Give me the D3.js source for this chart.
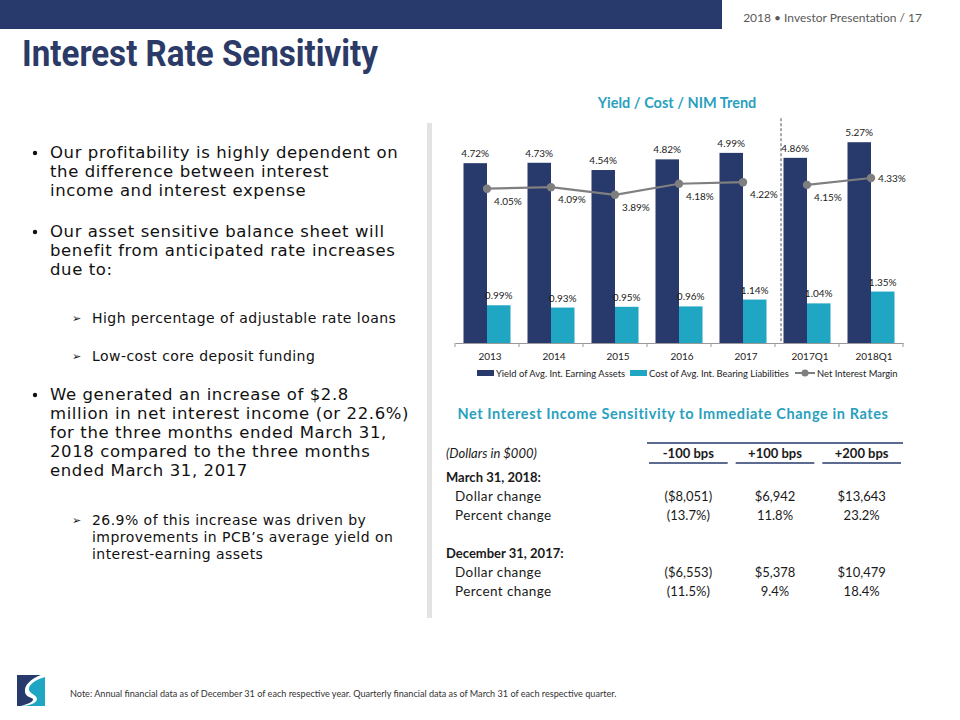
<!DOCTYPE html>
<html>
<head>
<meta charset="utf-8">
<script src="https://cdn.jsdelivr.net/npm/d3@7"></script>
<style>
  body { margin: 0; background: #fff; }
  svg { display: block; font-family: Lato, "Open Sans", sans-serif; }
</style>
</head>
<body>
<svg width="960" height="720"></svg>
<script>
// chart data
const categories = ['2013', '2014', '2015', '2016', '2017', '2017Q1', '2018Q1'];
const yieldValues = [4.72, 4.73, 4.54, 4.82, 4.99, 4.86, 5.27];
const costValues = [0.99, 0.93, 0.95, 0.96, 1.14, 1.04, 1.35];
const nimValues = [4.05, 4.09, 3.89, 4.18, 4.22, 4.15, 4.33];
const lineGroups = [[0, 1, 2, 3, 4], [5, 6]];   // annual vs quarterly, line breaks between
const legendLabels = ['Yield of Avg. Int. Earning Assets', 'Cost of Avg. Int. Bearing Liabilities', 'Net Interest Margin'];

// table data
const tableCols = ['-100 bps', '+100 bps', '+200 bps'];
const tableSections = ['March 31, 2018:', 'December 31, 2017:'];
const dollarChange = [['($8,051)', '$6,942', '$13,643'], ['($6,553)', '$5,378', '$10,479']];
const percentChange = [['(13.7%)', '11.8%', '23.2%'], ['(11.5%)', '9.4%', '18.4%']];

const navy = '#283a6b', cyan = '#1fa6c3', grey = '#7f7f7f', teal = '#2a9fbe';
const bodyFont = '"DejaVu Sans", Verdana, sans-serif';

const svg = d3.select('svg');

// header band
svg.append('rect').attr('x', 0).attr('y', 0).attr('width', 722).attr('height', 29).attr('fill', navy);
svg.append('text').attr('x', 922).attr('y', 22).attr('text-anchor', 'end')
  .attr('font-size', 12).attr('fill', '#595959').text('2018 • Investor Presentation / 17');

svg.append('text').attr('x', 22).attr('y', 66)
  .attr('font-family', 'Roboto, sans-serif').attr('font-weight', 'bold')
  .attr('font-size', 37).attr('fill', '#2b3a67')
  .attr('textLength', 356).attr('lengthAdjust', 'spacingAndGlyphs')
  .text('Interest Rate Sensitivity');

// grey divider
svg.append('rect').attr('x', 427).attr('y', 123).attr('width', 5).attr('height', 495).attr('fill', '#e3e3e3');

// left bullet text
const left = svg.append('g').attr('fill', '#111').attr('font-family', bodyFont);
const bullets = [
  { y: 158, lines: ['Our profitability is highly dependent on', 'the difference between interest', 'income and interest expense'] },
  { y: 237, lines: ['Our asset sensitive balance sheet will', 'benefit from anticipated rate increases', 'due to:'] },
  { y: 400, lines: ['We generated an increase of $2.8', 'million in net interest income (or 22.6%)', 'for the three months ended March 31,', '2018 compared to the three months', 'ended March 31, 2017'] }
];
bullets.forEach(b => {
  left.append('circle').attr('cx', 35).attr('cy', b.y - 5).attr('r', 2.2);
  b.lines.forEach((l, i) => {
    left.append('text').attr('x', 50).attr('y', b.y + i * 19)
      .attr('font-size', 16.5).attr('letter-spacing', 0.6).text(l);
  });
});
const subs = [
  { y: 323, lines: ['High percentage of adjustable rate loans'] },
  { y: 361, lines: ['Low-cost core deposit funding'] },
  { y: 525, lines: ['26.9% of this increase was driven by', 'improvements in PCB\u2019s average yield on', 'interest-earning assets'] }
];
subs.forEach(s => {
  left.append('text').attr('x', 72).attr('y', s.y - 1).attr('font-size', 11).text('\u27A2');
  s.lines.forEach((l, i) => {
    left.append('text').attr('x', 92).attr('y', s.y + i * 17)
      .attr('font-size', 14).attr('letter-spacing', 0.45).text(l);
  });
});

// chart
svg.append('text').attr('x', 677).attr('y', 108).attr('text-anchor', 'middle')
  .attr('font-size', 14.5).attr('font-weight', 'bold').attr('fill', teal).text('Yield / Cost / NIM Trend');

const x0 = d3.scaleBand().domain(categories).range([455, 903]);
const x1 = d3.scaleBand().domain(['yield', 'cost']).range([8.5, x0.bandwidth() - 8.5]);
const y = d3.scaleLinear().domain([0, 6]).range([343, 114.4]);
const cx = c => x0(c) + x0.bandwidth() / 2;

const chart = svg.append('g');
const labelFont = 10;

[['yield', yieldValues, navy], ['cost', costValues, cyan]].forEach(([key, vals, col]) => {
  chart.selectAll('.bar-' + key).data(vals).join('rect')
    .attr('x', (d, i) => x0(categories[i]) + x1(key))
    .attr('width', x1.bandwidth())
    .attr('y', d => y(d))
    .attr('height', d => y(0) - y(d))
    .attr('fill', col);
  chart.selectAll('.lab-' + key).data(vals).join('text')
    .attr('x', (d, i) => x0(categories[i]) + x1(key) + x1.bandwidth() / 2)
    .attr('y', d => y(d) - 6)
    .attr('text-anchor', 'middle').attr('font-size', labelFont).attr('fill', '#222')
    .text(d => d.toFixed(2) + '%');
});

// dashed separator between annual and quarterly
chart.append('line').attr('x1', 781).attr('x2', 781).attr('y1', y(5.9)).attr('y2', y(0))
  .attr('stroke', '#555').attr('stroke-width', 1).attr('stroke-dasharray', '3,2');

// axis
const xAxis = chart.append('g').attr('transform', `translate(0,${y(0)})`)
  .call(d3.axisBottom(x0).tickSize(0).tickPadding(10));
xAxis.select('.domain').attr('stroke', '#999');
xAxis.selectAll('.tick text').attr('font-size', 10).attr('fill', '#222')
  .attr('font-family', 'Lato, sans-serif').attr('dx', 3);
chart.selectAll('.sep').data(d3.range(categories.length + 1)).join('line')
  .attr('x1', i => 455 + i * x0.step()).attr('x2', i => 455 + i * x0.step())
  .attr('y1', y(0)).attr('y2', y(0) + 4).attr('stroke', '#999');

// NIM line
const line = d3.line().x(i => cx(categories[i])).y(i => y(nimValues[i]));
lineGroups.forEach(g => {
  chart.append('path').attr('d', line(g)).attr('fill', 'none').attr('stroke', grey).attr('stroke-width', 2.2);
});
chart.selectAll('.dot').data(nimValues).join('circle')
  .attr('cx', (d, i) => cx(categories[i])).attr('cy', d => y(d)).attr('r', 4.2).attr('fill', grey);
chart.selectAll('.nimlab').data(nimValues).join('text')
  .attr('x', (d, i) => cx(categories[i]) + 21)
  .attr('y', (d, i) => y(d) + (i === nimValues.length - 1 ? 4 : 16))
  .attr('text-anchor', 'middle').attr('font-size', labelFont).attr('fill', '#222')
  .text(d => d.toFixed(2) + '%');

// legend
const legend = chart.append('g').attr('font-size', 9.4).attr('fill', '#222');
const legendX = [477, 630, 795];
legendLabels.forEach((l, i) => {
  const lx = legendX[i];
  if (i < 2) {
    legend.append('rect').attr('x', lx).attr('y', 370).attr('width', 17).attr('height', 6)
      .attr('fill', i === 0 ? navy : cyan);
  } else {
    legend.append('line').attr('x1', lx).attr('x2', lx + 20).attr('y1', 373).attr('y2', 373)
      .attr('stroke', grey).attr('stroke-width', 2);
    legend.append('circle').attr('cx', lx + 10).attr('cy', 373).attr('r', 3.5).attr('fill', grey);
  }
  legend.append('text').attr('x', lx + (i < 2 ? 19 : 22)).attr('y', 377).text(l);
});

// table
svg.append('text').attr('x', 673).attr('y', 419).attr('text-anchor', 'middle')
  .attr('font-size', 14.5).attr('font-weight', 'bold').attr('fill', teal).attr('letter-spacing', 0.6)
  .text('Net Interest Income Sensitivity to Immediate Change in Rates');

const colX = d3.scaleBand().domain(tableCols).range([645, 905]);
const tbl = svg.append('g').attr('fill', '#1a1a1a').attr('font-size', 13);
tbl.append('line').attr('x1', 647).attr('x2', 903).attr('y1', 443).attr('y2', 443).attr('stroke', navy).attr('stroke-width', 1.5);
tableCols.forEach(c => {
  const mid = colX(c) + colX.bandwidth() / 2;
  tbl.append('text').attr('x', mid).attr('y', 458).attr('text-anchor', 'middle').attr('font-weight', 'bold').text(c);
  tbl.append('line').attr('x1', colX(c) + 4).attr('x2', colX(c) + colX.bandwidth() - 4)
    .attr('y1', 463).attr('y2', 463).attr('stroke', navy).attr('stroke-width', 1.5);
});
tbl.append('text').attr('x', 446).attr('y', 458).attr('font-style', 'italic').text('(Dollars in $000)');

const sectionY = [482, 558];
tableSections.forEach((s, si) => {
  const sy = sectionY[si];
  tbl.append('text').attr('x', 446).attr('y', sy).attr('font-weight', 'bold').text(s);
  tbl.append('text').attr('x', 455).attr('y', sy + 19).attr('font-size', 13.5).attr('letter-spacing', 0.4).text('Dollar change');
  tbl.append('text').attr('x', 455).attr('y', sy + 38).attr('font-size', 13.5).attr('letter-spacing', 0.4).text('Percent change');
  tableCols.forEach((c, ci) => {
    const mid = colX(c) + colX.bandwidth() / 2;
    tbl.append('text').attr('x', mid).attr('y', sy + 19).attr('text-anchor', 'middle').text(dollarChange[si][ci]);
    tbl.append('text').attr('x', mid).attr('y', sy + 38).attr('text-anchor', 'middle').text(percentChange[si][ci]);
  });
});

// logo
const logo = svg.append('g').attr('transform', 'translate(17,675)');
logo.append('rect').attr('width', 28).attr('height', 31).attr('fill', cyan);
logo.append('path').attr('d', 'M0,0 L24,0 C14,4 7,10 8,17 C9,22 14,22 16,24 C17,27 10,30 4,31 L0,31 Z').attr('fill', navy);
logo.append('path').attr('d', 'M24,0 L28,0 L28,2 C18,5 11,10 12,15 C13,19 20,20 20,24 C20,28 12,31 4,31 C10,29 17,27 16,24 C14,22 9,22 8,17 C7,10 14,4 24,0 Z').attr('fill', '#fff');

svg.append('text').attr('x', 70).attr('y', 697).attr('font-size', 9.1).attr('fill', '#333')
  .text('Note: Annual financial data as of December 31 of each respective year. Quarterly financial data as of March 31 of each respective quarter.');
</script>
</body>
</html>
